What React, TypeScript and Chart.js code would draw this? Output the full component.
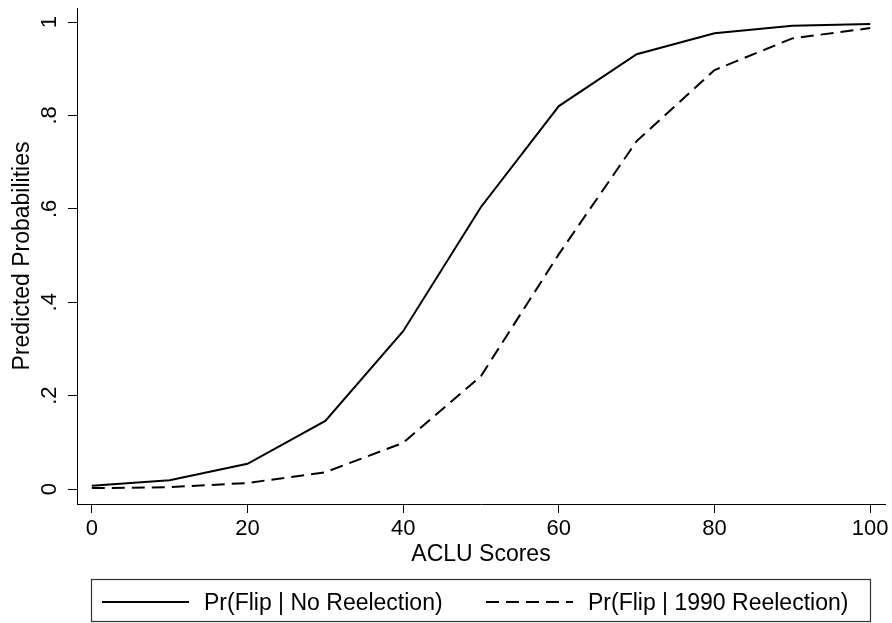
import { useEffect, useRef } from "react";
import { Chart, registerables } from "chart.js";

Chart.register(...registerables);

const FONT = '"Liberation Sans", Arial, Helvetica, sans-serif';

const acluScores = [0, 10, 20, 30, 40, 50, 60, 70, 80, 90, 100];
const prNoReelection = [0.007, 0.019, 0.054, 0.146, 0.338, 0.604, 0.82, 0.931, 0.976, 0.992, 0.996];
const pr1990Reelection = [0.002, 0.004, 0.013, 0.036, 0.099, 0.242, 0.503, 0.745, 0.897, 0.965, 0.987];
const seriesLabels = ["Pr(Flip | No Reelection)", "Pr(Flip | 1990 Reelection)"];

const xTickValues = [0, 20, 40, 60, 80, 100];
const xTickLabels = ["0", "20", "40", "60", "80", "100"];
const yTickValues = [0, 0.2, 0.4, 0.6, 0.8, 1];
const yTickLabels = ["0", ".2", ".4", ".6", ".8", "1"];

const yTickLabelPlugin = {
  id: "yTickLabelsRotated",
  afterDraw(chart: any) {
    const ys = chart.scales.y;
    const ctx = chart.ctx;
    ctx.save();
    ctx.font = `22px ${FONT}`;
    ctx.fillStyle = "#000";
    ctx.textAlign = "center";
    ctx.textBaseline = "alphabetic";
    yTickValues.forEach((v, i) => {
      const py = ys.getPixelForValue(v);
      ctx.save();
      ctx.translate(ys.right - 21, py);
      ctx.rotate(-Math.PI / 2);
      ctx.fillText(yTickLabels[i], 0, 0);
      ctx.restore();
    });
    ctx.restore();
  },
};

const legendBoxPlugin = {
  id: "stataLegend",
  afterDraw(chart: any) {
    const ctx = chart.ctx;
    const left = 91.5;
    const right = 870.5;
    const top = 579.5;
    const bottom = 621.5;
    ctx.save();
    ctx.strokeStyle = "#333";
    ctx.lineWidth = 1.2;
    ctx.setLineDash([]);
    ctx.strokeRect(left, top, right - left, bottom - top);
    const itemX = [102, 486];
    const lineLen = 87;
    const midY = 602;
    chart.data.datasets.forEach((ds: any, i: number) => {
      ctx.save();
      ctx.strokeStyle = ds.borderColor;
      ctx.lineWidth = ds.borderWidth;
      ctx.setLineDash(ds.borderDash || []);
      ctx.beginPath();
      ctx.moveTo(itemX[i], midY);
      ctx.lineTo(itemX[i] + lineLen, midY);
      ctx.stroke();
      ctx.restore();
      ctx.font = `23px ${FONT}`;
      ctx.fillStyle = "#000";
      ctx.textAlign = "left";
      ctx.textBaseline = "alphabetic";
      ctx.fillText(ds.label, itemX[i] + lineLen + 15, 610);
    });
    ctx.restore();
  },
};

export default function App() {
  const canvasRef = useRef<HTMLCanvasElement | null>(null);

  useEffect(() => {
    if (!canvasRef.current) return;
    const chart = new Chart(canvasRef.current, {
      type: "line",
      data: {
        datasets: [
          {
            label: seriesLabels[0],
            data: acluScores.map((x, i) => ({ x, y: prNoReelection[i] })),
            borderColor: "#000",
            borderWidth: 2,
            pointRadius: 0,
            tension: 0,
            fill: false,
          },
          {
            label: seriesLabels[1],
            data: acluScores.map((x, i) => ({ x, y: pr1990Reelection[i] })),
            borderColor: "#000",
            borderWidth: 2,
            borderDash: [13, 7],
            pointRadius: 0,
            tension: 0,
            fill: false,
          },
        ],
      },
      options: {
        animation: false,
        responsive: false,
        devicePixelRatio: 1,
        layout: { padding: { left: 0, top: 8, right: 7, bottom: 48 } },
        plugins: {
          legend: { display: false },
          tooltip: { enabled: false },
        },
        scales: {
          x: {
            type: "linear",
            min: -1.9,
            max: 101.9,
            afterBuildTicks: (s: any) => {
              s.ticks = xTickValues.map((v) => ({ value: v }));
            },
            afterFit: (s: any) => {
              s.height = 71;
              s.paddingLeft = 0;
              s.paddingRight = 0;
            },
            ticks: {
              padding: 3,
              autoSkip: false,
              maxRotation: 0,
              minRotation: 0,
              color: "#000",
              font: { family: FONT, size: 22 },
              callback: (v: any) => {
                const i = xTickValues.indexOf(Number(v));
                return i >= 0 ? xTickLabels[i] : "";
              },
            },
            grid: {
              drawOnChartArea: false,
              drawTicks: true,
              tickLength: 9,
              color: "#000",
              lineWidth: 1,
            },
            border: { display: true, color: "#000", width: 1 },
            title: {
              display: true,
              text: "ACLU Scores",
              color: "#000",
              font: { family: FONT, size: 23 },
              padding: { top: 0, bottom: 7 },
            },
          },
          y: {
            type: "linear",
            min: -0.032,
            max: 1.03,
            afterBuildTicks: (s: any) => {
              s.ticks = yTickValues.map((v) => ({ value: v }));
            },
            afterFit: (s: any) => {
              s.width = 77;
              s.paddingTop = 0;
              s.paddingBottom = 0;
            },
            ticks: { display: false },
            grid: {
              drawOnChartArea: false,
              drawTicks: true,
              tickLength: 9,
              color: "#000",
              lineWidth: 1,
            },
            border: { display: true, color: "#000", width: 1 },
            title: {
              display: true,
              text: "Predicted Probabilities",
              color: "#000",
              font: { family: FONT, size: 23 },
              padding: { top: 9, bottom: 0 },
            },
          },
        },
      },
      plugins: [yTickLabelPlugin, legendBoxPlugin],
    });
    return () => chart.destroy();
  }, []);

  return (
    <div style={{ position: "absolute", left: 0, top: 0, width: 892, height: 623, background: "#fff" }}>
      <canvas ref={canvasRef} width={892} height={623} style={{ display: "block" }} />
    </div>
  );
}
